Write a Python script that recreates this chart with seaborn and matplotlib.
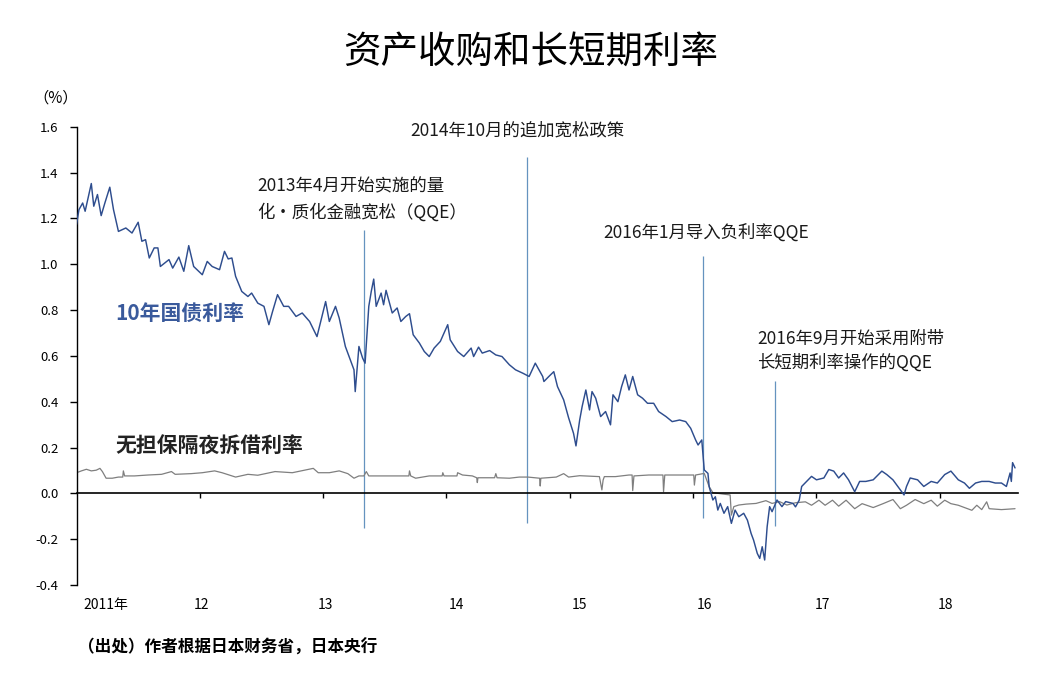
import matplotlib
matplotlib.use('Agg')
import matplotlib.pyplot as plt
import seaborn as sns
import pandas as pd

# ============================================================
# Data
# ============================================================
# 10-year JGB yield, x in decimal years, value in %
jgb_t = [2011.00, 2011.02, 2011.05, 2011.07, 2011.12, 2011.14, 2011.17, 2011.20, 2011.23, 2011.27,
         2011.30, 2011.34, 2011.40, 2011.45, 2011.50, 2011.53, 2011.56, 2011.59, 2011.63, 2011.66,
         2011.68, 2011.75, 2011.78, 2011.83, 2011.87, 2011.91, 2011.95, 2012.02, 2012.06, 2012.10,
         2012.16, 2012.20, 2012.23, 2012.26, 2012.29, 2012.34, 2012.39, 2012.42, 2012.47, 2012.52,
         2012.56, 2012.59, 2012.63, 2012.68, 2012.72, 2012.78, 2012.83, 2012.89, 2012.95, 2013.02,
         2013.05, 2013.10, 2013.13, 2013.18, 2013.21, 2013.25, 2013.26, 2013.29, 2013.32, 2013.34,
         2013.37, 2013.39, 2013.41, 2013.43, 2013.47, 2013.49, 2013.51, 2013.56, 2013.60, 2013.63,
         2013.67, 2013.70, 2013.73, 2013.78, 2013.82, 2013.86, 2013.90, 2013.95, 2014.01, 2014.03,
         2014.09, 2014.14, 2014.20, 2014.22, 2014.26, 2014.29, 2014.35, 2014.40, 2014.45, 2014.51,
         2014.56, 2014.62, 2014.67, 2014.72, 2014.78, 2014.79, 2014.83, 2014.87, 2014.90, 2014.95,
         2014.99, 2015.03, 2015.05, 2015.08, 2015.10, 2015.13, 2015.16, 2015.18, 2015.21, 2015.25,
         2015.29, 2015.33, 2015.35, 2015.39, 2015.42, 2015.45, 2015.48, 2015.51, 2015.55, 2015.59,
         2015.63, 2015.68, 2015.72, 2015.78, 2015.83, 2015.89, 2015.94, 2015.98, 2016.02, 2016.04,
         2016.07, 2016.09, 2016.12, 2016.13, 2016.16, 2016.18, 2016.20, 2016.22, 2016.25, 2016.28,
         2016.31, 2016.34, 2016.37, 2016.41, 2016.44, 2016.47, 2016.49, 2016.52, 2016.54, 2016.56,
         2016.58, 2016.60, 2016.62, 2016.64, 2016.68, 2016.72, 2016.75, 2016.81, 2016.83, 2016.86,
         2016.88, 2016.92, 2016.96, 2017.00, 2017.06, 2017.10, 2017.14, 2017.18, 2017.22, 2017.26,
         2017.31, 2017.35, 2017.40, 2017.46, 2017.53, 2017.57, 2017.62, 2017.67, 2017.71, 2017.73,
         2017.76, 2017.82, 2017.87, 2017.93, 2017.98, 2018.04, 2018.09, 2018.15, 2018.20, 2018.24,
         2018.29, 2018.34, 2018.40, 2018.45, 2018.50, 2018.54, 2018.57, 2018.58, 2018.59, 2018.61]
jgb_v = [1.173, 1.238, 1.267, 1.231, 1.352, 1.253, 1.304, 1.212, 1.267, 1.336,
         1.238, 1.143, 1.158, 1.136, 1.183, 1.100, 1.107, 1.027, 1.071, 1.071,
         0.990, 1.020, 0.983, 1.031, 0.969, 1.081, 0.990, 0.954, 1.012, 0.990,
         0.976, 1.056, 1.023, 1.027, 0.947, 0.881, 0.859, 0.874, 0.830, 0.816,
         0.736, 0.794, 0.867, 0.816, 0.816, 0.772, 0.787, 0.750, 0.684, 0.837,
         0.750, 0.816, 0.765, 0.641, 0.597, 0.539, 0.444, 0.641, 0.590, 0.568,
         0.816, 0.881, 0.935, 0.816, 0.874, 0.823, 0.886, 0.787, 0.809, 0.750,
         0.772, 0.784, 0.692, 0.656, 0.619, 0.597, 0.634, 0.663, 0.736, 0.670,
         0.619, 0.597, 0.634, 0.597, 0.638, 0.612, 0.623, 0.604, 0.597, 0.561,
         0.539, 0.524, 0.510, 0.568, 0.510, 0.488, 0.510, 0.531, 0.466, 0.408,
         0.330, 0.262, 0.207, 0.320, 0.379, 0.451, 0.364, 0.444, 0.415, 0.335,
         0.357, 0.299, 0.430, 0.400, 0.466, 0.517, 0.451, 0.510, 0.430, 0.415,
         0.393, 0.393, 0.357, 0.335, 0.313, 0.320, 0.313, 0.284, 0.233, 0.211,
         0.233, 0.102, 0.087, 0.029, -0.029, -0.015, -0.073, -0.044, -0.087, -0.058,
         -0.131, -0.073, -0.102, -0.087, -0.117, -0.175, -0.204, -0.262, -0.284, -0.233,
         -0.291, -0.146, -0.058, -0.080, -0.029, -0.058, -0.036, -0.044, -0.059, -0.030,
         0.030, 0.052, 0.074, 0.059, 0.067, 0.104, 0.097, 0.067, 0.089, 0.059,
         0.007, 0.052, 0.052, 0.059, 0.097, 0.082, 0.059, 0.022, -0.007, 0.030,
         0.067, 0.059, 0.030, 0.052, 0.045, 0.082, 0.097, 0.059, 0.045, 0.022,
         0.045, 0.052, 0.052, 0.045, 0.045, 0.030, 0.089, 0.052, 0.134, 0.111]

# Uncollateralized overnight call rate
call_t = [2011.00, 2011.04, 2011.08, 2011.12, 2011.16, 2011.19, 2011.21, 2011.24, 2011.29, 2011.34,
          2011.375, 2011.38, 2011.39, 2011.47, 2011.58, 2011.69, 2011.77, 2011.80, 2011.93, 2012.02,
          2012.12, 2012.18, 2012.29, 2012.39, 2012.47, 2012.61, 2012.75, 2012.92, 2012.96, 2013.05,
          2013.13, 2013.20, 2013.25, 2013.29, 2013.33, 2013.35, 2013.37, 2013.59, 2013.695, 2013.70,
          2013.71, 2013.75, 2013.86, 2013.965, 2013.97, 2013.98, 2014.085, 2014.09, 2014.13, 2014.21,
          2014.245, 2014.25, 2014.255, 2014.39, 2014.40, 2014.41, 2014.51, 2014.59, 2014.66, 2014.72,
          2014.755, 2014.76, 2014.765, 2014.89, 2014.95, 2014.99, 2015.08, 2015.24, 2015.26, 2015.27,
          2015.28, 2015.37, 2015.48, 2015.505, 2015.51, 2015.52, 2015.64, 2015.755, 2015.76, 2015.77,
          2015.89, 2016.005, 2016.01, 2016.02, 2016.09, 2016.13, 2016.16, 2016.24, 2016.30, 2016.31,
          2016.33, 2016.37, 2016.43, 2016.51, 2016.59, 2016.64, 2016.70, 2016.76, 2016.83, 2016.91,
          2016.96, 2017.02, 2017.07, 2017.13, 2017.18, 2017.24, 2017.31, 2017.37, 2017.46, 2017.54,
          2017.62, 2017.68, 2017.73, 2017.80, 2017.87, 2017.93, 2017.98, 2018.04, 2018.09, 2018.15,
          2018.20, 2018.26, 2018.30, 2018.34, 2018.38, 2018.40, 2018.50, 2018.61]
call_v = [0.090, 0.098, 0.105, 0.098, 0.101, 0.109, 0.095, 0.066, 0.066, 0.071,
          0.071, 0.098, 0.076, 0.076, 0.080, 0.083, 0.095, 0.083, 0.086, 0.090,
          0.098, 0.090, 0.071, 0.083, 0.079, 0.095, 0.090, 0.109, 0.090, 0.090,
          0.098, 0.086, 0.066, 0.076, 0.076, 0.095, 0.076, 0.076, 0.076, 0.098,
          0.076, 0.066, 0.076, 0.076, 0.090, 0.076, 0.076, 0.090, 0.080, 0.076,
          0.068, 0.047, 0.068, 0.068, 0.086, 0.068, 0.066, 0.071, 0.071, 0.068,
          0.066, 0.032, 0.066, 0.071, 0.086, 0.071, 0.077, 0.073, 0.015, 0.058,
          0.073, 0.073, 0.080, 0.080, 0.012, 0.076, 0.080, 0.080, 0.007, 0.080,
          0.080, 0.080, 0.036, 0.080, 0.087, 0.029, 0.003, -0.003, -0.007, -0.095,
          -0.058, -0.051, -0.047, -0.044, -0.032, -0.044, -0.036, -0.051, -0.041, -0.037,
          -0.052, -0.030, -0.052, -0.030, -0.056, -0.030, -0.067, -0.045, -0.062, -0.045,
          -0.027, -0.067, -0.052, -0.027, -0.045, -0.030, -0.056, -0.030, -0.045, -0.052,
          -0.062, -0.074, -0.052, -0.071, -0.037, -0.067, -0.071, -0.067]

# Policy event markers: position, top and bottom of each vertical line
event_t = [2013.33, 2014.65, 2016.08, 2016.66]
event_top = [1.15, 1.466, 1.037, 0.491]
event_bottom = [-0.152, -0.130, -0.108, -0.143]

y_ticks = [-0.4, -0.2, 0.0, 0.2, 0.4, 0.6, 0.8, 1.0, 1.2, 1.4, 1.6]
year_ticks = [2012, 2013, 2014, 2015, 2016, 2017, 2018]
year_label_pos = [2011.24, 2012.01, 2013.02, 2014.08, 2015.08, 2016.09, 2017.05, 2018.05]
year_labels = ['2011年', '12', '13', '14', '15', '16', '17', '18']

jgb_df = pd.DataFrame({'t': jgb_t, 'rate': jgb_v})
call_df = pd.DataFrame({'t': call_t, 'rate': call_v})

# ============================================================
# Style
# ============================================================
sns.set_theme(style='white')
plt.rcParams['font.family'] = ['Noto Sans CJK SC', 'DejaVu Sans']
plt.rcParams['axes.unicode_minus'] = False

BLUE = '#2E4D8E'
GRAY = '#7F7F7F'
EVENT = '#6593BF'

W, H = 1054, 677
fig = plt.figure(figsize=(W / 100, H / 100), dpi=100)
ax = fig.add_axes([76.5 / W, 1 - 585 / H, 941 / W, 458.3 / H])

# vertical policy lines
ax.vlines(event_t, event_bottom, event_top, color=EVENT, linewidth=0.9, zorder=1)

sns.lineplot(data=call_df, x='t', y='rate', ax=ax, color=GRAY, linewidth=0.9,
             sort=False, estimator=None, zorder=2)
sns.lineplot(data=jgb_df, x='t', y='rate', ax=ax, color=BLUE, linewidth=1.05,
             sort=False, estimator=None, zorder=3)

ax.set_xlim(2011.0, 2018.63)
ax.set_ylim(-0.4, 1.6)
ax.set_xlabel('')
ax.set_ylabel('')
ax.grid(False)

# axes: left spine + zero line used as x axis
for side in ['top', 'right']:
    ax.spines[side].set_visible(False)
ax.spines['bottom'].set_position(('data', 0))
ax.spines['bottom'].set_color('black')
ax.spines['bottom'].set_linewidth(1.2)
ax.spines['left'].set_color('black')
ax.spines['left'].set_linewidth(1.0)

ax.set_yticks(y_ticks)
ax.set_yticklabels([f'{v:.1f}' for v in y_ticks])
ax.tick_params(axis='y', left=True, direction='out', length=5, width=1,
               pad=8, labelsize=9.5, labelcolor='black', color='black')
ax.set_xticks(year_ticks)
ax.tick_params(axis='x', bottom=True, direction='out', length=3.5, width=1,
               labelbottom=False, color='black')

for pos, lab in zip(year_label_pos, year_labels):
    ax.text(pos, -0.044, lab, transform=ax.get_xaxis_transform(),
            ha='center', va='center', fontsize=10, color='black')

# ============================================================
# Text
# ============================================================
def fx(px):
    return px / W


def fy(py):
    return 1 - py / H


fig.text(fx(531), fy(52), '资产收购和长短期利率', ha='center', va='center',
         fontsize=27, color='black')
fig.text(fx(56), fy(98), '（%）', ha='center', va='center', fontsize=11, color='black')

ann_kw = dict(ha='left', va='center', fontsize=12.5, color='#1a1a1a')
fig.text(fx(410), fy(131), '2014年10月的追加宽松政策', **ann_kw)
fig.text(fx(257), fy(186), '2013年4月开始实施的量', **ann_kw)
fig.text(fx(257), fy(212), '化・质化金融宽松（QQE）', **ann_kw)
fig.text(fx(603), fy(233), '2016年1月导入负利率QQE', **ann_kw)
fig.text(fx(757), fy(339), '2016年9月开始采用附带', **ann_kw)
fig.text(fx(757), fy(363), '长短期利率操作的QQE', **ann_kw)

fig.text(fx(115), fy(313), '10年国债利率', ha='left', va='center', fontsize=15,
         fontweight='bold', color='#3A5A9C')
fig.text(fx(115), fy(445), '无担保隔夜拆借利率', ha='left', va='center', fontsize=15,
         fontweight='bold', color='#222222')
fig.text(fx(78), fy(648), '（出处）作者根据日本财务省，日本央行', ha='left', va='center',
         fontsize=12, fontweight='bold', color='black')

fig.savefig('out.png', dpi=100, facecolor='white')
plt.close(fig)
